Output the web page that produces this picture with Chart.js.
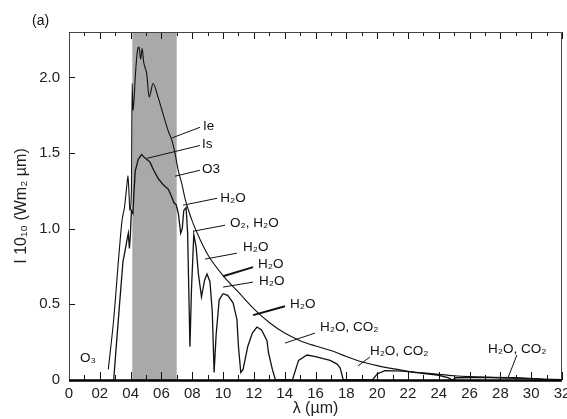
<!DOCTYPE html>
<html><head><meta charset="utf-8">
<script src="https://cdn.jsdelivr.net/npm/chart.js@4/dist/chart.umd.min.js"></script>
<style>html,body{margin:0;padding:0;background:#fff}#wrap{width:567px;height:419px}</style>
</head><body><div id="wrap"><canvas id="c" width="567" height="419"></canvas></div>
<script>
// wavelength in units of 0.1 µm (axis labels 0, 02, 04 ... 32)
const ieX = [2.55,2.9,3.25,3.45,3.6,3.77,3.83,3.9,3.95,4.05,4.1,4.15,4.22,4.3,4.45,4.55,4.65,4.75,4.85,5.05,5.2,5.3,5.45,5.78,6.1,6.43,6.69,6.88,7.08,7.34,7.53,7.73,8.0,8.5,9.0,10,11,12,13,14,15,16,17,18,19,20,21,22,23,24,25,26,28,30,32];
const ieY = [0.07,0.4,0.84,1.06,1.14,1.3,1.35,1.22,1.12,1.25,1.96,1.78,1.85,2.0,2.18,2.2,2.12,2.19,2.1,2.02,1.87,1.9,1.96,1.87,1.76,1.65,1.58,1.5,1.39,1.29,1.2,1.13,1.05,0.93,0.83,0.69,0.58,0.47,0.38,0.31,0.26,0.225,0.195,0.155,0.12,0.095,0.075,0.058,0.047,0.037,0.028,0.022,0.014,0.008,0.003];
const isX = [2.9,3.05,3.25,3.5,3.65,3.77,3.85,3.92,3.98,4.05,4.15,4.22,4.3,4.5,4.72,4.9,5.26,5.48,5.8,6.12,6.45,6.67,6.82,6.95,7.1,7.25,7.35,7.45,7.6,7.7,7.85,7.95,8.1,8.25,8.4,8.6,8.8,8.96,9.15,9.3,9.42,9.55,9.75,10.0,10.3,10.65,10.9,11.0,11.15,11.3,11.6,11.9,12.2,12.5,12.85,12.95,13.2,13.4,14.5,14.9,15.45,16.0,16.95,17.4,17.6,17.8,19.7,20.0,20.5,21.7,22.8,23.9,24.6,24.9,25.1,27.0,29.0,30.5,31.0];
const isY = [0,0.2,0.46,0.78,0.86,0.93,0.97,0.87,0.95,1.12,1.1,1.25,1.38,1.46,1.49,1.47,1.44,1.39,1.33,1.29,1.26,1.21,1.17,1.16,1.1,0.97,1.0,1.12,1.14,0.97,0.22,0.6,0.96,0.88,0.70,0.55,0.66,0.70,0.65,0.45,0.05,0.3,0.53,0.57,0.56,0.51,0.40,0.22,0.05,0.07,0.22,0.31,0.35,0.33,0.26,0.18,0.07,0,0,0.13,0.165,0.155,0.13,0.105,0.08,0,0,0.04,0.062,0.058,0.046,0.033,0.015,0,0.015,0.018,0.015,0.008,0];
const visibleBand = [4.1, 7.0];
const xRange = [0, 32];
const yRange = [0, 2.3];

// annotations (data units)
const noteText = ['Ie','Is','O3','H\u2082O','O\u2082, H\u2082O','H\u2082O','H\u2082O','H\u2082O','H\u2082O','H\u2082O, CO\u2082','H\u2082O, CO\u2082','H\u2082O, CO\u2082','O\u2083'];
const noteX = [8.70,8.64,8.64,9.81,10.45,11.3,12.27,12.33,14.35,16.29,19.53,27.19,0.71];
const noteY = [1.677,1.558,1.393,1.201,1.036,0.878,0.766,0.653,0.502,0.35,0.191,0.205,0.145];
const leadX0 = [8.5,8.5,8.5,9.61,10.13,10.9,11.95,11.95,14.02,15.97,19.53,29.07];
const leadY0 = [1.67,1.55,1.386,1.201,1.023,0.838,0.746,0.647,0.488,0.31,0.152,0.165];
const leadX1 = [6.69,5.06,6.88,7.40,8.05,8.83,10.0,10.0,11.95,14.02,18.75,28.49];
const leadY1 = [1.6,1.465,1.347,1.155,0.983,0.799,0.686,0.614,0.429,0.244,0.092,0.013];
const leaderWidth = [1,1,1,1,1,1,2,1,2,1,1,1];

const FONT = "'Liberation Sans', Arial, sans-serif";
Chart.defaults.font.family = FONT;
Chart.defaults.color = '#222';

const pts = (xs, ys) => xs.map((v, i) => ({x: v, y: ys[i]}));

const decor = {
  id: 'decor',
  afterDatasetsDraw(chart) {
    const {ctx, scales: {x, y}} = chart;
    ctx.save();
    ctx.strokeStyle = '#111';
    for (let i = 0; i < leadX0.length; i++) {
      ctx.lineWidth = leaderWidth[i];
      ctx.beginPath();
      ctx.moveTo(x.getPixelForValue(leadX0[i]), y.getPixelForValue(leadY0[i]));
      ctx.lineTo(x.getPixelForValue(leadX1[i]), y.getPixelForValue(leadY1[i]));
      ctx.stroke();
    }
    ctx.fillStyle = '#111';
    ctx.font = '13.5px ' + FONT;
    ctx.textAlign = 'left';
    ctx.textBaseline = 'middle';
    for (let i = 0; i < noteText.length; i++) {
      ctx.fillText(noteText[i], x.getPixelForValue(noteX[i]), y.getPixelForValue(noteY[i]));
    }
    ctx.restore();
  },
  afterDraw(chart) {
    const {ctx, chartArea: a, scales: {x, y}} = chart;
    ctx.save();
    ctx.strokeStyle = '#111';
    ctx.lineWidth = 1;
    ctx.beginPath();
    for (let v = xRange[0]; v <= xRange[1]; v += 1) {
      const px = Math.round(x.getPixelForValue(v)) + 0.5;
      const major = v % 2 === 0;
      ctx.moveTo(px, a.bottom); ctx.lineTo(px, a.bottom - (major ? 8 : 5));
      ctx.moveTo(px, a.top); ctx.lineTo(px, a.top + (major ? 7 : 4));
    }
    y.ticks.forEach(t => {
      const py = Math.round(y.getPixelForValue(t.value)) + 0.5;
      ctx.moveTo(a.left, py); ctx.lineTo(a.left + 6, py);
    });
    ctx.stroke();
    // frame
    ctx.strokeStyle = '#444';
    ctx.beginPath();
    ctx.moveTo(a.left + 0.5, a.bottom); ctx.lineTo(a.left + 0.5, a.top + 0.5);
    ctx.lineTo(a.right - 0.5, a.top + 0.5); ctx.lineTo(a.right - 0.5, a.bottom);
    ctx.stroke();
    ctx.strokeStyle = '#000';
    ctx.lineWidth = 2.5;
    ctx.beginPath();
    ctx.moveTo(a.left, a.bottom + 0.5); ctx.lineTo(a.right, a.bottom + 0.5);
    ctx.stroke();
    // panel tag
    ctx.fillStyle = '#111';
    ctx.font = '14px ' + FONT;
    ctx.textAlign = 'left';
    ctx.textBaseline = 'middle';
    ctx.fillText('(a)', a.left - 37, a.top - 11);
    ctx.restore();
  }
};

new Chart(document.getElementById('c'), {
  type: 'scatter',
  data: {
    datasets: [
      {label: 'Ie', data: pts(ieX, ieY), showLine: true, borderColor: '#111', borderWidth: 1.1, pointRadius: 0, cubicInterpolationMode: 'monotone', order: 1},
      {label: 'Is', data: pts(isX, isY), showLine: true, borderColor: '#111', borderWidth: 1.3, pointRadius: 0, tension: 0, order: 0},
      {label: 'visible', data: [{x: visibleBand[0], y: yRange[1]}, {x: visibleBand[1], y: yRange[1]}], showLine: true, borderWidth: 0, borderColor: 'rgba(0,0,0,0)', backgroundColor: '#a9a9a9', fill: 'origin', pointRadius: 0, order: 5}
    ]
  },
  options: {
    responsive: false,
    animation: false,
    devicePixelRatio: 1,
    layout: {padding: {top: 32, right: 5, left: 0, bottom: 0}},
    plugins: {legend: {display: false}, tooltip: {enabled: false}, filler: {propagate: false}},
    scales: {
      x: {
        type: 'linear', min: xRange[0], max: xRange[1],
        grid: {display: false, drawTicks: false},
        border: {display: false},
        ticks: {stepSize: 2, padding: 5, font: {size: 15}, color: '#222', maxRotation: 0, autoSkip: false,
          callback: v => v === 0 ? '0' : String(v).padStart(2, '0')},
        title: {display: true, text: 'λ (µm)', font: {size: 16}, color: '#222', padding: {top: 0, bottom: 0.5}},
        afterFit: s => { s.height = 39; s.paddingLeft = 0; s.paddingRight = 0; }
      },
      y: {
        type: 'linear', min: yRange[0], max: yRange[1],
        grid: {display: false, drawTicks: false},
        border: {display: false},
        ticks: {stepSize: 0.5, includeBounds: false, padding: 9, font: {size: 15}, color: '#222',
          callback: v => v === 0 ? '0' : v.toFixed(1)},
        title: {display: true, text: 'I 10\u2081\u2080 (Wm\u2082 µm)', font: {size: 16}, color: '#222', padding: {top: 12, bottom: 0}},
        afterFit: s => { s.width = 69; }
      }
    }
  },
  plugins: [decor]
});
</script>
</body></html>
